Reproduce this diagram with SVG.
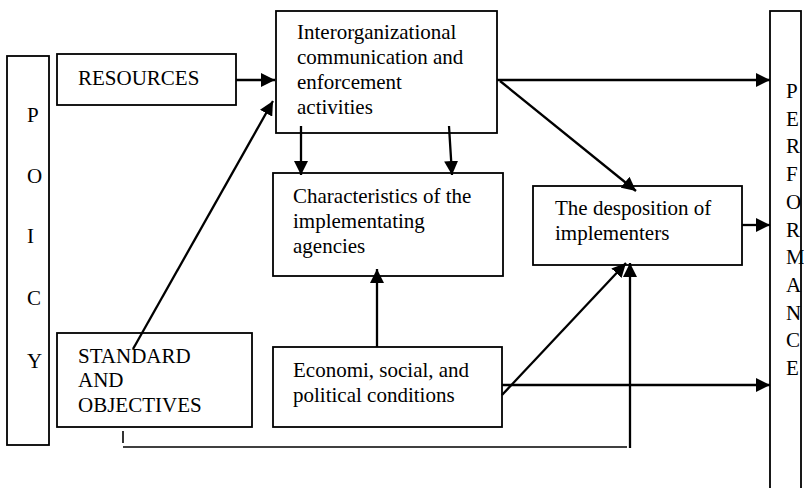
<svg xmlns="http://www.w3.org/2000/svg" width="804" height="488" viewBox="0 0 804 488">
<defs>
<style>
.box{fill:#fff;stroke:#000;stroke-width:1.8}
.t{font-family:"Liberation Serif","Times New Roman",serif;font-size:21px;fill:#000}
.a{fill:none;stroke:#000;stroke-width:2.3}
.thin{fill:none;stroke:#000;stroke-width:1.6}
</style>
<marker id="ah" viewBox="0 0 14 14" refX="14" refY="7" markerWidth="14" markerHeight="14" markerUnits="userSpaceOnUse" orient="auto">
<path d="M0,0 L14,7 L0,14 Z" fill="#000"/>
</marker>
</defs>
<rect width="804" height="488" fill="#fff"/>

<g id="policy">
<rect class="box" x="7" y="56" width="42" height="389"/>
<text class="t" x="27" y="122">P</text>
<text class="t" x="27" y="183">O</text>
<text class="t" x="27" y="243">I</text>
<text class="t" x="27" y="305">C</text>
<text class="t" x="27" y="368">Y</text>
</g>

<g id="performance">
<rect class="box" x="770" y="11" width="31" height="490"/>
<text class="t" x="786" y="98">P</text>
<text class="t" x="786" y="126">E</text>
<text class="t" x="786" y="153">R</text>
<text class="t" x="786" y="181">F</text>
<text class="t" x="786" y="209">O</text>
<text class="t" x="786" y="237">R</text>
<text class="t" x="786" y="264">M</text>
<text class="t" x="786" y="292">A</text>
<text class="t" x="786" y="320">N</text>
<text class="t" x="786" y="347">C</text>
<text class="t" x="786" y="375">E</text>
</g>

<g id="resources">
<rect class="box" x="57" y="54" width="179" height="51"/>
<text class="t" x="78" y="85">RESOURCES</text>
</g>

<g id="interorg">
<rect class="box" x="276" y="11" width="221" height="122"/>
<text class="t" x="297" y="39">Interorganizational</text>
<text class="t" x="297" y="64">communication and</text>
<text class="t" x="297" y="89">enforcement</text>
<text class="t" x="297" y="114">activities</text>
</g>

<g id="characteristics">
<rect class="box" x="273" y="173" width="230" height="103"/>
<text class="t" x="293" y="203">Characteristics of the</text>
<text class="t" x="293" y="228">implementating</text>
<text class="t" x="293" y="253">agencies</text>
</g>

<g id="disposition">
<rect class="box" x="533" y="186" width="209" height="79"/>
<text class="t" x="555" y="215">The desposition of</text>
<text class="t" x="555" y="240">implementers</text>
</g>

<g id="standard">
<rect class="box" x="57" y="333" width="195" height="94"/>
<text class="t" x="78" y="363">STANDARD</text>
<text class="t" x="78" y="387">AND</text>
<text class="t" x="78" y="412">OBJECTIVES</text>
</g>

<g id="conditions">
<rect class="box" x="273" y="347" width="229" height="80"/>
<text class="t" x="293" y="377">Economi, social, and</text>
<text class="t" x="293" y="402">political conditions</text>
</g>

<g id="connectors">
<path class="a" d="M236,80 L275,80" marker-end="url(#ah)"/>
<path class="a" d="M133,349 L273,101" marker-end="url(#ah)"/>
<path class="a" d="M497,80 L770,80" marker-end="url(#ah)"/>
<path class="a" d="M500,81 L636,191" marker-end="url(#ah)"/>
<path class="a" d="M301,126 L301,175" marker-end="url(#ah)"/>
<path class="a" d="M449,126 L452,175" marker-end="url(#ah)"/>
<path class="a" d="M377,347 L377,269" marker-end="url(#ah)"/>
<path class="a" d="M742,225 L770,225" marker-end="url(#ah)"/>
<path class="a" d="M502,395 L626,263" marker-end="url(#ah)"/>
<path class="a" d="M502,385 L770,385" marker-end="url(#ah)"/>
<path class="thin" d="M123,431 L123,443"/>
<path class="thin" d="M123,447 L627,447"/>
<path class="a" d="M630,448 L630,263" marker-end="url(#ah)"/>
</g>
</svg>
